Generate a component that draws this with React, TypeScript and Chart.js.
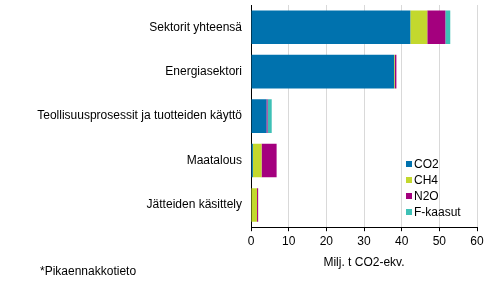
import React, { useEffect, useRef } from "react";
import { Chart, registerables } from "chart.js";

Chart.register(...registerables);

const FONT = "'Liberation Sans', Arial, sans-serif";

const categories = [
  "Sektorit yhteensä",
  "Energiasektori",
  "Teollisuusprosessit ja tuotteiden käyttö",
  "Maatalous",
  "Jätteiden käsittely",
];
const co2 = [42.3, 38.0, 4.1, 0.5, 0.0];
const ch4 = [4.5, 0.2, 0.0, 2.3, 1.6];
const n2o = [4.8, 0.4, 0.3, 4.0, 0.3];
const fgas = [1.3, 0.0, 1.1, 0.0, 0.0];
const seriesNames = ["CO2", "CH4", "N2O", "F-kaasut"];
const seriesColors = ["#0072ae", "#c3d82e", "#a4007e", "#3ec1b6"];
const xAxisTitle = "Milj. t CO2-ekv.";
const footnote = "*Pikaennakkotieto";

const insideLegend = {
  id: "insideLegend",
  afterDatasetsDraw(chart: any) {
    const ctx = chart.ctx;
    ctx.save();
    ctx.font = `12px ${FONT}`;
    ctx.textBaseline = "middle";
    ctx.textAlign = "left";
    chart.data.datasets.forEach((ds: any, i: number) => {
      const y = 164 + i * 16;
      const x = 406;
      ctx.fillStyle = ds.backgroundColor;
      ctx.fillRect(x, y - 3, 6, 6);
      ctx.fillStyle = "#000";
      ctx.fillText(ds.label, x + 8, y + 0.5);
    });
    ctx.restore();
  },
};

const footnotePlugin = {
  id: "footnote",
  afterDraw(chart: any) {
    const ctx = chart.ctx;
    ctx.save();
    ctx.font = `12px ${FONT}`;
    ctx.textBaseline = "middle";
    ctx.textAlign = "left";
    ctx.fillStyle = "#000";
    ctx.fillText(footnote, 40, 272);
    ctx.restore();
  },
};

export default function App() {
  const ref = useRef<HTMLCanvasElement | null>(null);

  useEffect(() => {
    if (!ref.current) return;
    const series = [co2, ch4, n2o, fgas];
    const chart = new Chart(ref.current, {
      type: "bar",
      data: {
        labels: categories,
        datasets: series.map((d, i) => ({
          label: seriesNames[i],
          data: d,
          backgroundColor: seriesColors[i],
          borderWidth: 0,
          categoryPercentage: 0.756,
          barPercentage: 1,
        })),
      },
      options: {
        indexAxis: "y",
        responsive: false,
        animation: false,
        devicePixelRatio: 1,
        layout: { padding: { top: 5, right: 14, bottom: 16, left: 0 } },
        plugins: {
          legend: { display: false },
          tooltip: { enabled: false },
        },
        scales: {
          x: {
            stacked: true,
            min: 0,
            max: 60,
            ticks: {
              stepSize: 10,
              color: "#000",
              font: { size: 12, family: FONT },
              padding: 3,
            },
            grid: {
              color: "#d9d9d9",
              tickColor: "#000",
              tickLength: 4,
              drawTicks: true,
            },
            border: { color: "#000", width: 1 },
            title: {
              display: true,
              text: xAxisTitle,
              color: "#000",
              font: { size: 12, family: FONT },
              padding: { top: 4, bottom: 0 },
            },
          },
          y: {
            stacked: true,
            ticks: {
              color: "#000",
              font: { size: 12, family: FONT },
              padding: 9,
            },
            grid: { display: false, drawTicks: false },
            border: { color: "#000", width: 1 },
            afterFit: (scale: any) => {
              scale.width = 251;
              scale.paddingTop = 0;
              scale.paddingBottom = 0;
            },
          },
        },
      },
      plugins: [insideLegend, footnotePlugin],
    } as any);
    return () => chart.destroy();
  }, []);

  return (
    <div style={{ position: "absolute", left: 0, top: 0, width: 491, height: 286 }}>
      <canvas ref={ref} width={491} height={286} />
    </div>
  );
}
